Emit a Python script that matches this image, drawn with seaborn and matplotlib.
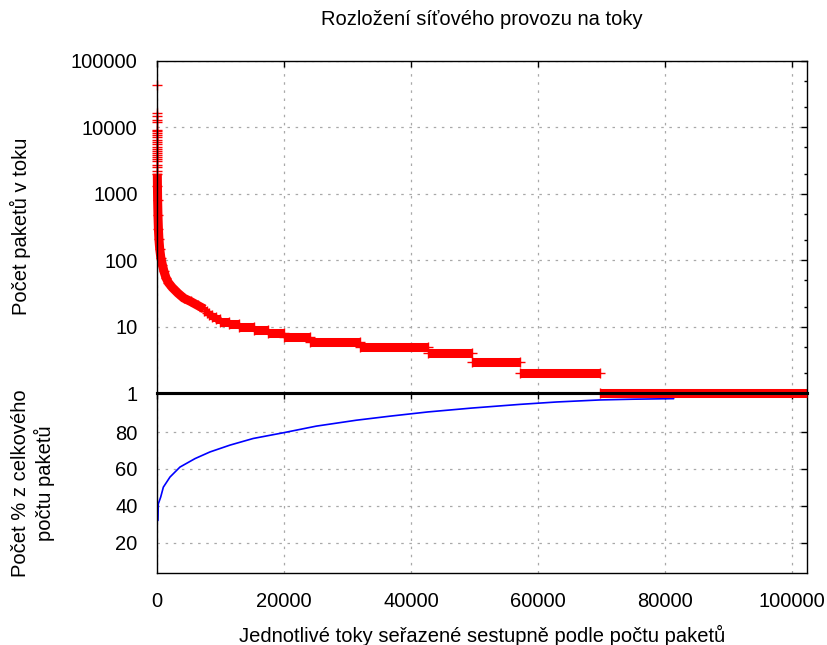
import numpy as np
import matplotlib
matplotlib.use('Agg')
import matplotlib.pyplot as plt
import matplotlib.ticker as mticker
import seaborn as sns

# largest flows (packet counts), all at the very start of the ranking
top_ranks = [0, 2, 4, 6, 8, 10, 12, 14, 16, 18, 20, 22, 24, 26, 28, 30, 32, 34, 36, 38, 40, 42, 44, 46]
top_values = [43000, 16400, 14900, 12900, 12100, 9100, 8650, 8200, 7650, 7150, 6450, 6000, 5600,
              5100, 4750, 4450, 4150, 3830, 3570, 3340, 3100, 2700, 2500, 2200]

# steep head of the sorted distribution
head_ranks = [50, 70, 100, 150, 220, 300, 420, 600, 850, 1100, 1400, 1800, 2400, 3300, 4200, 5300, 6400, 7460]
head_values = [2000, 1300, 800, 480, 300, 210, 150, 110, 85, 68, 55, 46, 39, 32, 27, 24, 21, 18.5]

# flat runs of flows with the same packet count
plateau_levels = [17, 16, 15, 14, 13, 12, 11, 10, 9, 8, 7, 6, 5, 4, 3, 2, 1]
plateau_starts = [7460, 7800, 8200, 8700, 9300, 10000, 11300, 12890, 15260, 17470, 19980,
                  24080, 31960, 42680, 49610, 57180, 69780]
plateau_ends = plateau_starts[1:] + [102400]

# cumulative share of packets [%]
cum_ranks = [150, 200, 580, 1000, 2050, 3620, 6000, 8350, 11500, 15160, 19900, 25100,
             31400, 36700, 42700, 49600, 57200, 63000, 69800, 75000, 81400]
cum_pct = [32, 41, 44.7, 50.1, 55.6, 61, 65.6, 69.2, 72.9, 76.5, 79.6, 83.2,
           86.4, 88.6, 90.9, 93.0, 95.0, 96.3, 97.4, 97.8, 98.1]

sns.set_theme(style='white')
plt.rcParams['font.family'] = ['Liberation Sans', 'DejaVu Sans']
plt.rcParams['text.color'] = 'black'
plt.rcParams['axes.labelcolor'] = 'black'
FS = 14.5

fig = plt.figure(figsize=(8.27, 6.45), dpi=100)
ax_bot = fig.add_axes([0.18984, 0.11209, 0.78597, 0.27814])
ax_top = fig.add_axes([0.18984, 0.39023, 0.78597, 0.51566], sharex=ax_bot)
ax_top.set_zorder(3)
ax_top.patch.set_alpha(0)

# red packet counts: dense '+' marks merge into thick bands
ax_top.plot(head_ranks, head_values, color='red', lw=6.5, solid_capstyle='butt',
            solid_joinstyle='miter', clip_on=False, zorder=2)
ax_top.hlines(plateau_levels, plateau_starts, plateau_ends, color='red', lw=6.5,
              capstyle='butt', clip_on=False, zorder=2)

mark_x = top_ranks + head_ranks + plateau_starts + plateau_ends[:-1]
mark_y = top_values + head_values + plateau_levels + plateau_levels[:-1]
ax_top.plot(mark_x, mark_y, ls='none', marker='+', ms=7.2, mew=1.0, color='red',
            clip_on=False, zorder=2)

sns.lineplot(x=cum_ranks, y=cum_pct, estimator=None, color='blue', lw=1.2, ax=ax_bot)

ax_top.set_yscale('log')
ax_top.set_ylim(1, 100000)
ax_top.yaxis.set_major_locator(mticker.LogLocator(base=10, numticks=10))
ax_top.yaxis.set_minor_locator(mticker.LogLocator(base=10, subs=(2, 5), numticks=10))
ax_top.yaxis.set_major_formatter(mticker.FuncFormatter(lambda v, p: f'{v:g}'))
ax_top.yaxis.set_minor_formatter(mticker.NullFormatter())

ax_bot.set_xlim(0, 102400)
ax_bot.set_xticks([0, 20000, 40000, 60000, 80000, 100000])
ax_bot.set_ylim(3.7, 101)
ax_bot.set_yticks([20, 40, 60, 80])

grid_kw = dict(color='#a8a8a8', lw=0.9, ls=(0, (2, 4.5)))
for ax in (ax_top, ax_bot):
    ax.set_xlabel('')
    ax.set_ylabel('')
    ax.grid(True, which='major', **grid_kw)
    ax.set_axisbelow(True)
    ax.tick_params(which='both', direction='in', top=True, right=True,
                   colors='black', labelsize=FS, pad=14)
    ax.tick_params(which='major', length=4.5, width=1)
    ax.tick_params(which='minor', length=2.3, width=1)
    for sp in ax.spines.values():
        sp.set_color('black')
        sp.set_linewidth(1.0)
ax_top.tick_params(labelbottom=False)
ax_top.spines['bottom'].set_linewidth(2.2)
ax_bot.spines['top'].set_linewidth(2.2)

fig.text(0.5828, 0.969, 'Rozložení síťového provozu na toky', ha='center', va='center', fontsize=FS)
fig.text(0.5828, 0.0155, 'Jednotlivé toky seřazené sestupně podle počtu paketů',
         ha='center', va='center', fontsize=FS)
fig.text(0.0242, 0.6496, 'Počet paketů v toku', rotation=90, ha='center', va='center', fontsize=FS)
fig.text(0.0399, 0.2512, 'Počet % z celkového\npočtu paketů', rotation=90, ha='center',
         va='center', fontsize=FS, linespacing=1.2)

fig.savefig('out.png', dpi=100)
